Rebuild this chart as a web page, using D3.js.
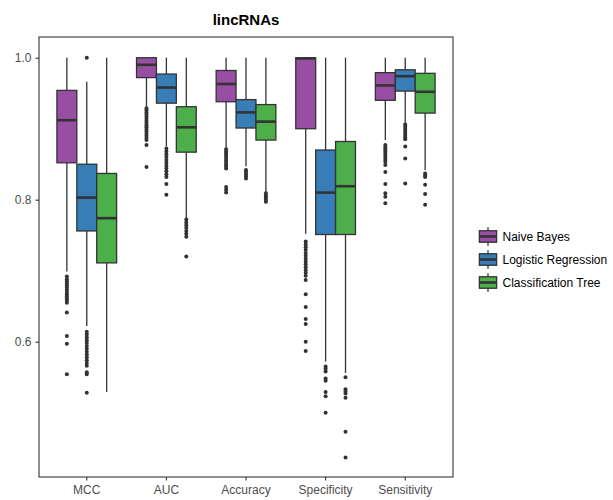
<!DOCTYPE html>
<html>
<head>
<meta charset="utf-8">
<script src="https://cdn.jsdelivr.net/npm/d3@7/dist/d3.min.js"></script>
<style>
  body { margin: 0; background: #fff; }
  svg { display: block; font-family: "Liberation Sans", Arial, sans-serif; }
</style>
</head>
<body>
<svg id="chart" width="613" height="500"></svg>
<script>
// Performance metrics of three classifiers on lincRNAs
const metrics = ["MCC", "AUC", "Accuracy", "Specificity", "Sensitivity"];
const methods = ["Naive Bayes", "Logistic Regression", "Classification Tree"];
const colors = ["#984EA3", "#377EB8", "#4DAF4A"];
const yTicks = [0.6, 0.8, 1.0];

// Box statistics: one row per method, one column per metric
const whiskerHigh = [
  [1.000, 1.000, 1.000, 1.000, 1.000],
  [0.966, 1.000, 1.000, 1.000, 1.000],
  [1.000, 1.000, 1.000, 1.000, 1.000]
];
const q3 = [
  [0.954, 1.000, 0.982, 1.000, 0.979],
  [0.850, 0.977, 0.941, 0.870, 0.983],
  [0.837, 0.931, 0.934, 0.882, 0.978]
];
const medians = [
  [0.912, 0.990, 0.963, 0.999, 0.961],
  [0.803, 0.958, 0.923, 0.810, 0.974],
  [0.774, 0.902, 0.910, 0.819, 0.952]
];
const q1 = [
  [0.852, 0.972, 0.938, 0.900, 0.940],
  [0.756, 0.936, 0.901, 0.751, 0.953],
  [0.711, 0.867, 0.884, 0.751, 0.922]
];
const whiskerLow = [
  [0.699, 0.930, 0.872, 0.752, 0.884],
  [0.622, 0.875, 0.847, 0.572, 0.908],
  [0.529, 0.774, 0.811, 0.556, 0.842]
];

// Outlying points per method and metric
const outliers = [
  [
    [0.692, 0.688, 0.685, 0.682, 0.679, 0.676, 0.673, 0.670, 0.667, 0.664, 0.661, 0.658, 0.655, 0.641, 0.608, 0.597, 0.554],
    [0.929, 0.926, 0.923, 0.920, 0.917, 0.914, 0.911, 0.908, 0.905, 0.902, 0.899, 0.896, 0.893, 0.890, 0.887, 0.884, 0.877, 0.846],
    [0.871, 0.868, 0.865, 0.862, 0.859, 0.856, 0.853, 0.850, 0.847, 0.844, 0.818, 0.814, 0.810],
    [0.741, 0.737, 0.733, 0.729, 0.725, 0.721, 0.717, 0.713, 0.709, 0.705, 0.701, 0.697, 0.693, 0.687, 0.667, 0.649, 0.632, 0.625, 0.600, 0.587],
    [0.877, 0.874, 0.871, 0.868, 0.865, 0.862, 0.859, 0.856, 0.853, 0.849, 0.839, 0.822, 0.809, 0.804, 0.795]
  ],
  [
    [1.000, 0.614, 0.610, 0.606, 0.602, 0.598, 0.594, 0.590, 0.586, 0.582, 0.578, 0.574, 0.570, 0.566, 0.557, 0.554, 0.528],
    [0.872, 0.868, 0.864, 0.860, 0.856, 0.852, 0.848, 0.844, 0.840, 0.836, 0.832, 0.822, 0.807],
    [0.842, 0.839, 0.836, 0.833, 0.830],
    [0.565, 0.562, 0.558, 0.548, 0.545, 0.529, 0.523, 0.500],
    [0.906, 0.903, 0.900, 0.897, 0.894, 0.891, 0.888, 0.885, 0.875, 0.858, 0.823]
  ],
  [
    [],
    [0.772, 0.768, 0.764, 0.760, 0.756, 0.752, 0.748, 0.720],
    [0.809, 0.806, 0.803, 0.800, 0.797],
    [0.550, 0.533, 0.530, 0.527, 0.521, 0.473, 0.437],
    [0.837, 0.834, 0.832, 0.821, 0.808, 0.793]
  ]
];

const svg = d3.select("#chart");
const panel = { left: 39, top: 37, width: 414, height: 440 };
const ink = "#333333";

const x = d3.scaleBand()
  .domain(metrics)
  .range([panel.left, panel.left + panel.width])
  .paddingInner(0)
  .paddingOuter(0.1);

const boxGroupWidth = x.bandwidth() * 0.75;
const xm = d3.scaleBand()
  .domain(methods)
  .range([-boxGroupWidth / 2, boxGroupWidth / 2]);

const y = d3.scaleLinear()
  .domain([0.4094, 1.0292])
  .range([panel.top + panel.height, panel.top]);

// Boxes, whiskers, medians, outliers
methods.forEach((m, mi) => {
  metrics.forEach((metric, ci) => {
    const cx = x(metric) + x.bandwidth() / 2 + xm(m) + xm.bandwidth() / 2;
    const w = xm.bandwidth();
    const g = svg.append("g");
    // whiskers
    g.append("line")
      .attr("x1", cx).attr("x2", cx)
      .attr("y1", y(whiskerHigh[mi][ci])).attr("y2", y(q3[mi][ci]))
      .attr("stroke", ink).attr("stroke-width", 1.3);
    g.append("line")
      .attr("x1", cx).attr("x2", cx)
      .attr("y1", y(q1[mi][ci])).attr("y2", y(whiskerLow[mi][ci]))
      .attr("stroke", ink).attr("stroke-width", 1.3);
    // box
    g.append("rect")
      .attr("x", cx - w / 2)
      .attr("y", y(q3[mi][ci]))
      .attr("width", w)
      .attr("height", Math.max(0.5, y(q1[mi][ci]) - y(q3[mi][ci])))
      .attr("fill", colors[mi])
      .attr("stroke", ink)
      .attr("stroke-width", 1.3);
    // median
    g.append("line")
      .attr("x1", cx - w / 2).attr("x2", cx + w / 2)
      .attr("y1", y(medians[mi][ci])).attr("y2", y(medians[mi][ci]))
      .attr("stroke", ink).attr("stroke-width", 2.6);
    // outliers
    g.selectAll("circle")
      .data(outliers[mi][ci])
      .join("circle")
      .attr("cx", cx)
      .attr("cy", d => y(d))
      .attr("r", 2)
      .attr("fill", ink);
  });
});

// Panel border
svg.append("rect")
  .attr("x", panel.left).attr("y", panel.top)
  .attr("width", panel.width).attr("height", panel.height)
  .attr("fill", "none").attr("stroke", ink).attr("stroke-width", 1.1);

// Axes
const xAxis = svg.append("g")
  .attr("transform", `translate(0,${panel.top + panel.height})`)
  .call(d3.axisBottom(x).tickSize(3.5).tickPadding(5));
const yAxis = svg.append("g")
  .attr("transform", `translate(${panel.left},0)`)
  .call(d3.axisLeft(y).tickValues(yTicks).tickFormat(d3.format(".1f")).tickSize(3.5).tickPadding(4));
[xAxis, yAxis].forEach(a => {
  a.select(".domain").remove();
  a.selectAll(".tick line").attr("stroke", ink).attr("stroke-width", 1.1);
  a.selectAll(".tick text")
    .attr("fill", "#4d4d4d")
    .style("font-size", "12px")
    .style("font-family", "'Liberation Sans', Arial, sans-serif");
});

// Title
svg.append("text")
  .attr("x", panel.left + panel.width / 2)
  .attr("y", 25)
  .attr("text-anchor", "middle")
  .style("font-size", "15px")
  .style("font-weight", "bold")
  .attr("fill", "#000")
  .text("lincRNAs");

// Legend
const keySize = 23;
const legend = svg.append("g").attr("transform", "translate(476.5,225)");
methods.forEach((m, i) => {
  const g = legend.append("g").attr("transform", `translate(0,${i * keySize})`);
  const k = keySize;
  g.append("line")
    .attr("x1", k / 2).attr("x2", k / 2)
    .attr("y1", k * 0.1).attr("y2", k * 0.9)
    .attr("stroke", ink).attr("stroke-width", 1.3);
  g.append("rect")
    .attr("x", k * 0.125).attr("y", k * 0.25)
    .attr("width", k * 0.75).attr("height", k * 0.5)
    .attr("fill", colors[i]).attr("stroke", ink).attr("stroke-width", 1.3);
  g.append("line")
    .attr("x1", k * 0.125).attr("x2", k * 0.875)
    .attr("y1", k / 2).attr("y2", k / 2)
    .attr("stroke", ink).attr("stroke-width", 2.6);
  g.append("text")
    .attr("x", k + 3)
    .attr("y", k / 2)
    .attr("dy", "0.35em")
    .style("font-size", "12px")
    .attr("fill", "#000")
    .text(m);
});
</script>
</body>
</html>
